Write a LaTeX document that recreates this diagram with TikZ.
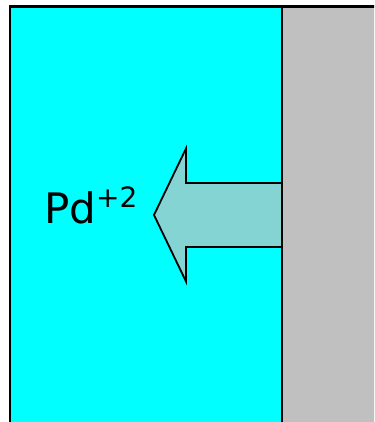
\documentclass[tikz,border=0pt]{standalone}
\usepackage{fontspec}
\setmainfont{DejaVu Sans}
\definecolor{bath}{RGB}{0,255,255}
\definecolor{metal}{RGB}{192,192,192}
\definecolor{flux}{RGB}{132,212,212}

\begin{document}
\begin{tikzpicture}[x=1pt,y=-1pt]
\useasboundingbox (0,0) rectangle (374,422);
\clip (0,0) rectangle (374,422);
\fill[bath] (10,6.5) rectangle (282,440);
\fill[metal] (282,6.5) rectangle (390,440);
\draw[line width=2.6pt] (10,440)--(10,6.5)--(390,6.5);

\filldraw[fill=flux, line width=1.8pt, line join=miter] (282,183)--(186,183)--(186,148.5)--(154,215)--(186,281.5)--(186,247)--(282,247);
\draw[line width=2.6pt] (282,6.5)--(282,440);

\node (pd) at (44,223) [anchor=base west, inner sep=0pt]{\fontsize{42}{50}\selectfont Pd{\fontsize{28}{32}\selectfont\raisebox{16pt}{+2}}};
\end{tikzpicture}
\end{document}
